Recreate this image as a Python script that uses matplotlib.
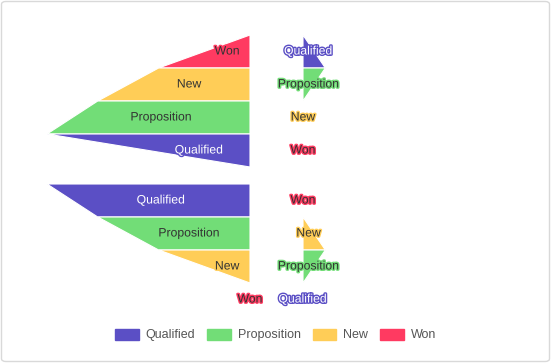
import matplotlib
matplotlib.use("Agg")
import matplotlib.pyplot as plt
import matplotlib.patheffects as pe
from matplotlib.patches import Patch, FancyBboxPatch

plt.rcParams["font.family"] = ["Liberation Sans", "DejaVu Sans"]

stages = ["Qualified", "Proposition", "New", "Won"]
colors = ["#5b4fc5", "#72dd77", "#ffcd57", "#ff3a61"]
text_colors = ["#ffffff", "#333333", "#333333", "#333333"]

# stage values for the two datasets
big_values = [100, 75, 45, 0]
small_values = [0, 11, 0, 0]

# display order (top to bottom) for each panel
order_top = ["Won", "New", "Proposition", "Qualified"]
order_top_right = ["Qualified", "Proposition", "New", "Won"]
order_bottom = ["Qualified", "Proposition", "New", "Won"]
order_bottom_right = ["Won", "New", "Proposition", "Qualified"]

W, H = 551, 363


def px_axes(fig, x0, y0, x1, y1):
    return fig.add_axes([x0 / W, 1 - y1 / H, (x1 - x0) / W, (y1 - y0) / H])


def draw_funnel(ax, values, order, to_left):
    vals = [values[stages.index(s)] for s in order]
    n = len(order)
    for i, name in enumerate(order):
        k = stages.index(name)
        top = vals[i]
        bottom = vals[i + 1] if i + 1 < n else 0
        if top > 0 or bottom > 0:
            ax.fill([0, top, bottom, 0], [i, i, i + 1, i + 1],
                    color=colors[k], edgecolor="white", linewidth=0.8)
        mid = (top + bottom) / 2.0
        ax.text(mid / 2.0, i + 0.5, name, ha="center", va="center",
                fontsize=8.8, color=text_colors[k],
                path_effects=[pe.withStroke(linewidth=2.0, foreground=colors[k])])
    ax.set_xlim((100, 0) if to_left else (0, 100))
    ax.set_ylim(n, 0)
    ax.axis("off")


fig = plt.figure(figsize=(W / 100, H / 100), dpi=100)

ax1 = px_axes(fig, 47, 35, 250, 167)
draw_funnel(ax1, big_values, order_top, True)
ax2 = px_axes(fig, 303, 35, 506, 167)
draw_funnel(ax2, small_values, order_top_right, False)
ax3 = px_axes(fig, 47, 184, 250, 316)
draw_funnel(ax3, big_values, order_bottom, True)
ax4 = px_axes(fig, 303, 184, 506, 316)
draw_funnel(ax4, small_values, order_bottom_right, False)

handles = [Patch(facecolor=c, edgecolor=c, label=s) for s, c in zip(stages, colors)]
fig.legend(handles=handles, loc="center", bbox_to_anchor=(0.5, 1 - 335 / H),
           ncol=4, frameon=False, fontsize=9, handlelength=1.9, handleheight=1.0,
           handletextpad=0.55, columnspacing=0.95, labelcolor="#555555")

fig.patches.append(FancyBboxPatch((1.5 / W, 1.5 / H), (W - 3) / W, (H - 3) / H,
                                  boxstyle="round,pad=0,rounding_size=0.008",
                                  transform=fig.transFigure, facecolor="none",
                                  edgecolor="#d9d9d9", linewidth=1))

fig.savefig("out.png", dpi=100)
